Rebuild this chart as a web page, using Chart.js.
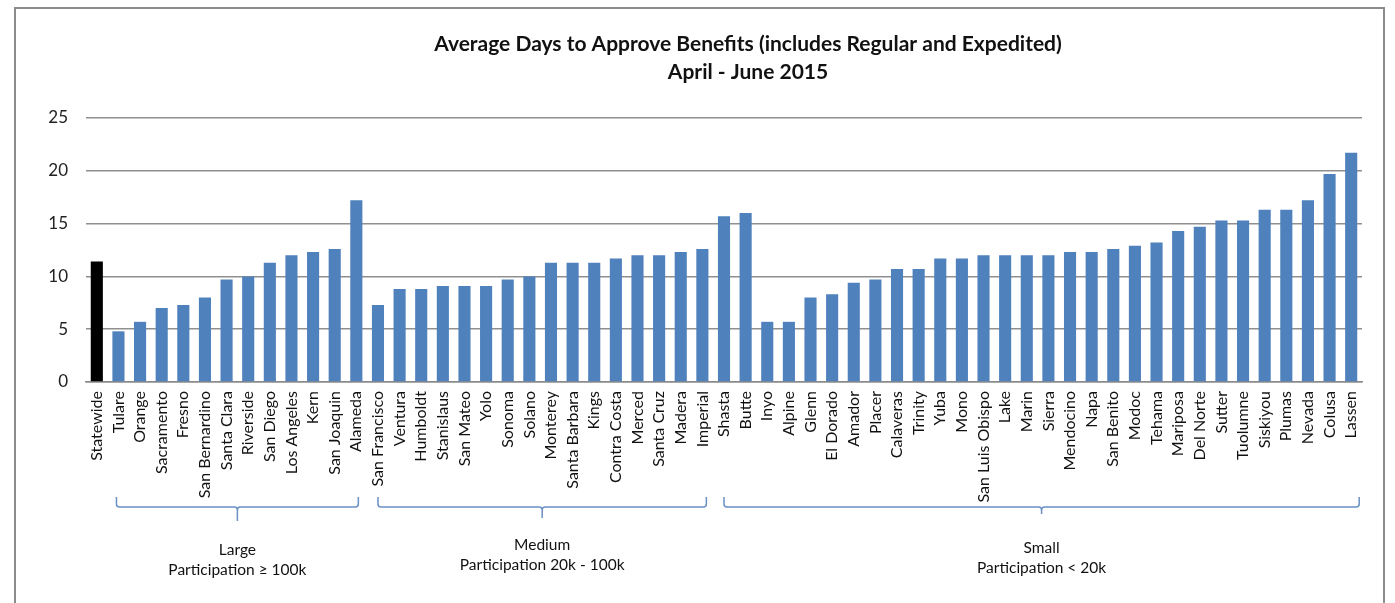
<!DOCTYPE html>
<html>
<head>
<meta charset="utf-8">
<script src="https://cdn.jsdelivr.net/npm/chart.js@4.4.1/dist/chart.umd.min.js"></script>
<style>
  html, body { margin: 0; padding: 0; background: #fff; }
  #wrap { position: relative; width: 1395px; height: 603px; }
</style>
</head>
<body>
<div id="wrap"><canvas id="c" width="1395" height="603"></canvas></div>
<script>
const titleLines = ['Average Days to Approve Benefits (includes Regular and Expedited)', 'April - June 2015'];

const categories = [
  'Statewide',
  'Tulare', 'Orange', 'Sacramento', 'Fresno', 'San Bernardino', 'Santa Clara', 'Riverside',
  'San Diego', 'Los Angeles', 'Kern', 'San Joaquin', 'Alameda',
  'San Francisco', 'Ventura', 'Humboldt', 'Stanislaus', 'San Mateo', 'Yolo', 'Sonoma', 'Solano',
  'Monterey', 'Santa Barbara', 'Kings', 'Contra Costa', 'Merced', 'Santa Cruz', 'Madera', 'Imperial',
  'Shasta', 'Butte', 'Inyo', 'Alpine', 'Glenn', 'El Dorado', 'Amador', 'Placer', 'Calaveras', 'Trinity',
  'Yuba', 'Mono', 'San Luis Obispo', 'Lake', 'Marin', 'Sierra', 'Mendocino', 'Napa', 'San Benito',
  'Modoc', 'Tehama', 'Mariposa', 'Del Norte', 'Sutter', 'Tuolumne', 'Siskiyou', 'Plumas', 'Nevada',
  'Colusa', 'Lassen'
];

const avgDays = [
  11.4,
  4.8, 5.7, 7.0, 7.3, 8.0, 9.7, 10.0, 11.3, 12.0, 12.3, 12.6, 17.2,
  7.3, 8.8, 8.8, 9.1, 9.1, 9.1, 9.7, 10.0, 11.3, 11.3, 11.3, 11.7, 12.0, 12.0, 12.3, 12.6,
  15.7, 16.0, 5.7, 5.7, 8.0, 8.3, 9.4, 9.7, 10.7, 10.7, 11.7, 11.7, 12.0, 12.0, 12.0, 12.0,
  12.3, 12.3, 12.6, 12.9, 13.2, 14.3, 14.7, 15.3, 15.3, 16.3, 16.3, 17.2, 19.7, 21.7
];

const yTicks = [0, 5, 10, 15, 20, 25];

const groupNames = ['Large', 'Medium', 'Small'];
const groupSubtitles = ['Participation \u2265 100k', 'Participation 20k - 100k', 'Participation < 20k'];
const groupFirst = ['Tulare', 'San Francisco', 'Shasta'];
const groupLast = ['Alameda', 'Imperial', 'Lassen'];

const FONT = 'Lato, "Open Sans", sans-serif';
const BLUE = '#4F81BD';

const barColors = categories.map(c => c === 'Statewide' ? '#000000' : BLUE);

const decorPlugin = {
  id: 'decor',
  afterDraw(chart) {
    const ctx = chart.ctx;
    const xs = chart.scales.x;
    // frame
    ctx.save();
    ctx.strokeStyle = '#8c8c8c';
    ctx.lineWidth = 2;
    ctx.beginPath();
    ctx.moveTo(15, 603);
    ctx.lineTo(15, 8);
    ctx.lineTo(1384, 8);
    ctx.lineTo(1384, 603);
    ctx.stroke();
    // title
    ctx.fillStyle = '#111';
    ctx.textAlign = 'center';
    ctx.textBaseline = 'middle';
    ctx.font = 'bold 21px ' + FONT;
    ctx.fillText(titleLines[0], 748, 44);
    ctx.fillText(titleLines[1], 748, 72);
    // brackets
    const offs = [[-2, 2], [0, 4], [0, 8]];
    const tips = [521, 518, 514];
    ctx.strokeStyle = '#6a90c6';
    ctx.lineWidth = 1.5;
    for (let g = 0; g < groupNames.length; g++) {
      const x1 = xs.getPixelForValue(categories.indexOf(groupFirst[g])) + offs[g][0];
      const x2 = xs.getPixelForValue(categories.indexOf(groupLast[g])) + offs[g][1];
      const xm = (x1 + x2) / 2;
      const top = 497, hy = 507, tip = tips[g], r = 3;
      ctx.beginPath();
      ctx.moveTo(x1, top);
      ctx.lineTo(x1, hy - r);
      ctx.quadraticCurveTo(x1, hy, x1 + r, hy);
      ctx.lineTo(xm - r, hy);
      ctx.quadraticCurveTo(xm, hy, xm, hy + r);
      ctx.lineTo(xm, tip);
      ctx.moveTo(xm, hy + r);
      ctx.quadraticCurveTo(xm, hy, xm + r, hy);
      ctx.lineTo(x2 - r, hy);
      ctx.quadraticCurveTo(x2, hy, x2, hy - r);
      ctx.lineTo(x2, top);
      ctx.stroke();
      ctx.fillStyle = '#111';
      ctx.font = '15.5px ' + FONT;
      const ty = g === 1 ? 545 : (g === 0 ? 550 : 548);
      ctx.fillText(groupNames[g], xm, ty);
      ctx.fillText(groupSubtitles[g], xm, ty + 20);
    }
    ctx.restore();
  }
};

new Chart(document.getElementById('c'), {
  type: 'bar',
  data: {
    labels: categories,
    datasets: [{
      data: avgDays,
      backgroundColor: barColors,
      borderWidth: 0,
      barPercentage: 0.56,
      categoryPercentage: 1.0
    }]
  },
  options: {
    responsive: false,
    animation: false,
    devicePixelRatio: 1,
    layout: { padding: { left: 40, right: 33, top: 118, bottom: 0 } },
    plugins: {
      legend: { display: false },
      title: { display: false },
      tooltip: { enabled: false }
    },
    scales: {
      x: {
        afterFit(s) { s.height = 221; },
        grid: { display: true, color: 'rgba(0,0,0,0)', drawTicks: false },
        border: { display: true, color: '#8a8a8a', width: 1.5 },
        ticks: {
          autoSkip: false,
          maxRotation: 90,
          minRotation: 90,
          padding: 9,
          color: '#111',
          font: { family: FONT, size: 16 }
        }
      },
      y: {
        min: 0,
        max: 25,
        afterFit(s) { s.width = 46; },
        afterBuildTicks(s) { s.ticks = yTicks.map(v => ({ value: v })); },
        grid: { color: '#8f8f8f', lineWidth: 1.5, drawTicks: false },
        border: { display: false },
        ticks: {
          padding: 18,
          color: '#222',
          font: { family: FONT, size: 17 }
        }
      }
    }
  },
  plugins: [decorPlugin]
});
</script>
</body>
</html>
